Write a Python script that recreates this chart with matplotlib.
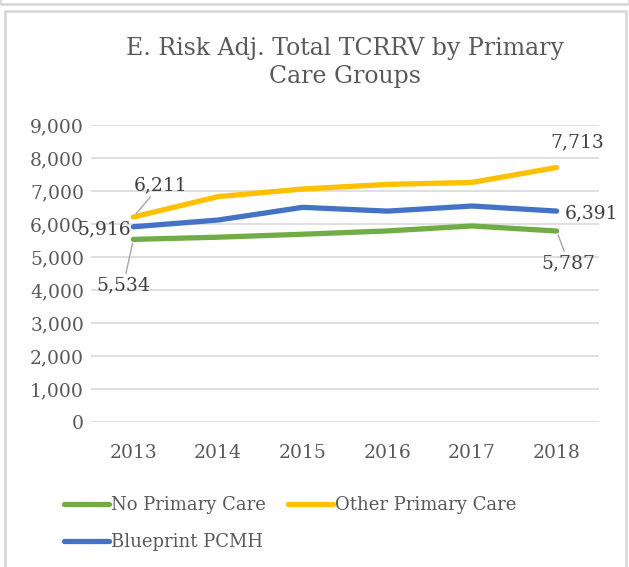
import numpy as np
import matplotlib.pyplot as plt
from matplotlib.patches import Rectangle

years = ['2013', '2014', '2015', '2016', '2017', '2018']
no_primary = [5534, 5600, 5690, 5790, 5940, 5787]
other_primary = [6211, 6830, 7060, 7200, 7260, 7713]
blueprint = [5916, 6120, 6505, 6390, 6545, 6391]

series_names = ['No Primary Care', 'Other Primary Care', 'Blueprint PCMH']
colors = ['#70AD47', '#FFC000', '#4472C4']
txt = '#595959'

plt.rcParams['font.family'] = ['DejaVu Serif']

fig = plt.figure(figsize=(6.29, 5.67), dpi=100)
W, H = 629, 567
# outer chart border
fig.patches.append(Rectangle((5 / W, -0.01), 621 / W, (H - 11) / H + 0.01,
                             transform=fig.transFigure, fill=False,
                             edgecolor='#D9D9D9', lw=2))
fig.patches.append(Rectangle((0, (H - 4) / H), 1.0, 0.02,
                             transform=fig.transFigure, fill=False,
                             edgecolor='#D9D9D9', lw=2))

ax = fig.add_axes([91 / W, (H - 422) / H, 508 / W, 297 / H])
x = np.arange(len(years))
lines = []
for vals, name, c in zip([no_primary, other_primary, blueprint], series_names, colors):
    ln, = ax.plot(x, vals, color=c, lw=3.8, solid_capstyle='round', label=name, zorder=3)
    lines.append(ln)

ax.set_xlim(-0.5, len(years) - 0.5)
ax.set_ylim(0, 9000)
ax.set_yticks(range(0, 9001, 1000))
ax.set_yticklabels(['{:,}'.format(v) for v in range(0, 9001, 1000)])
ax.set_xticks(x)
ax.set_xticklabels(years)
ax.grid(axis='y', color='#D9D9D9', lw=1.2)
ax.set_axisbelow(True)
for s in ax.spines.values():
    s.set_visible(False)
ax.tick_params(length=0, labelsize=13.5, labelcolor=txt)
ax.tick_params(axis='x', pad=16)
ax.tick_params(axis='y', pad=5)

ax.set_title('E. Risk Adj. Total TCRRV by Primary\nCare Groups', fontsize=17,
             color=txt, pad=30, linespacing=1.3)

lead = dict(arrowstyle='-', color='#A6A6A6', lw=1, shrinkA=0, shrinkB=3)
lab = dict(fontsize=13.5, color='#404040', textcoords='offset pixels')
ax.annotate('{:,}'.format(other_primary[0]), (0, other_primary[0]), xytext=(27, 32),
            ha='center', va='center', arrowprops=lead, **lab)
ax.annotate('{:,}'.format(blueprint[0]), (0, blueprint[0]), xytext=(-2, -3),
            ha='right', va='center', **lab)
ax.annotate('{:,}'.format(no_primary[0]), (0, no_primary[0]), xytext=(-10, -46),
            ha='center', va='center', arrowprops=lead, **lab)
ax.annotate('{:,}'.format(other_primary[-1]), (5, other_primary[-1]), xytext=(21, 25),
            ha='center', va='center', **lab)
ax.annotate('{:,}'.format(blueprint[-1]), (5, blueprint[-1]), xytext=(8, -2),
            ha='left', va='center', **lab)
ax.annotate('{:,}'.format(no_primary[-1]), (5, no_primary[-1]), xytext=(12, -32),
            ha='center', va='center', arrowprops=lead, **lab)

# column-wise fill: green, blue | orange  -> rows: green, orange / blue
order = [0, 2, 1]
fig.legend([lines[i] for i in order], [series_names[i] for i in order],
           loc='upper left', bbox_to_anchor=(48 / W, 1 - 480 / H), ncol=2,
           frameon=False, fontsize=13, labelcolor=txt, handlelength=2.5,
           handletextpad=0.1, columnspacing=1.2, labelspacing=1.05)

fig.savefig('out.png', dpi=100)
